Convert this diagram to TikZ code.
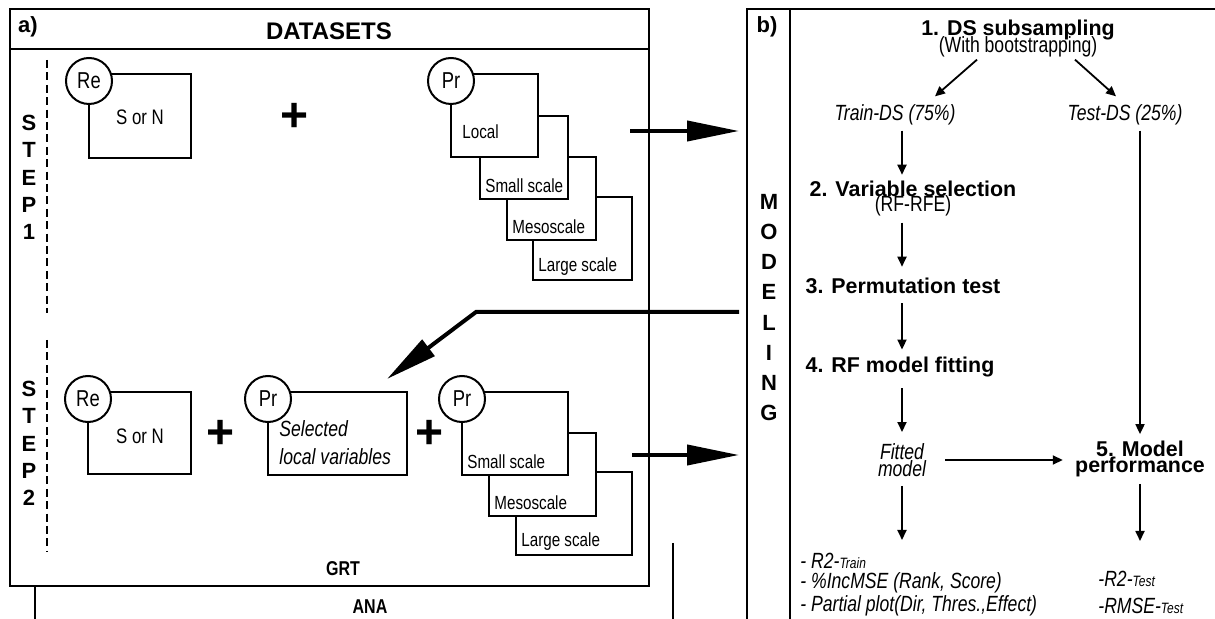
\documentclass[tikz,border=0pt]{standalone}
\usepackage{fontspec}
\setmainfont{Liberation Sans}
\newfontfamily\nf[FakeStretch=0.8]{Liberation Sans}
\usetikzlibrary{arrows.meta}

\tikzset{
  frame/.style={line width=1.2pt},
  box/.style={draw,line width=1pt,fill=white},
  tag/.style={circle,draw,line width=1pt,fill=white,minimum size=23pt,inner sep=0pt,font=\nf\fontsize{11.5}{12}\selectfont},
  lbl/.style={font=\nf\fontsize{9.5}{10}\selectfont,inner sep=0pt,anchor=west},
  plus/.style={font=\bfseries\fontsize{24}{24}\selectfont,inner sep=0pt},
  big/.style={line width=2pt,-{Triangle[length=26pt,width=10pt]}},
  arr/.style={line width=0.9pt,-{Triangle[length=5pt,width=4.5pt]}},
  ttl/.style={font=\bfseries\fontsize{10.7}{8}\selectfont,inner sep=1pt},
  par/.style={font=\nf\fontsize{11}{11}\selectfont,inner sep=1pt},
  ital/.style={font=\nf\itshape\fontsize{11}{8.5}\selectfont,inner sep=1pt},
  vert/.style={font=\bfseries\fontsize{11}{#1}\selectfont,align=center,inner sep=0pt},
}

\begin{document}
\begin{tikzpicture}[x=0.5pt,y=-0.5pt]
\useasboundingbox (0,0) rectangle (1215,619);
\draw[frame] (10,9) rectangle (649,586);
\draw[frame] (10,49) -- (649,49);
\node[font=\bfseries\fontsize{11}{12}\selectfont] (pa) at (28,27) {a)};
\node[font=\bfseries\fontsize{12}{12}\selectfont] (dsets) at (329,31) {DATASETS};
\node[vert=13.6pt] (step1) at (29,177.5) {S\\T\\E\\P\\1};
\node[vert=13.6pt] (step2) at (29,443.5) {S\\T\\E\\P\\2};
\draw[line width=1.4pt,dash pattern=on 4pt off 2.2pt] (47,60) -- (47,313) (47,340) -- (47,551);

\draw[box] (89,74) rectangle (191,158);
\node[tag] (re1) at (89,81) {Re};
\node[lbl,anchor=center,font=\nf\fontsize{10.5}{11}\selectfont] (sn1) at (140,117) {S or N};
\node[plus] (pl1) at (295,117) {+};
\foreach \t/\x/\y/\w [count=\i] in {Large scale/533/197/99,Mesoscale/507/157/89,Small scale/480/116/88}
  {\draw[box] (\x,\y) rectangle ++(\w,83);
   \node[lbl] (sa\i) at (\x+5,\y+70) {\t};}
\draw[box] (451,74) rectangle (538,157);
\node[tag] (pr1) at (451,81) {Pr};
\node[lbl] (loc) at (462,132) {Local};
\coordinate (s1) at (630,131);
\coordinate (b1) at (739,131);
\draw[big] (s1) -- (b1);

\draw[box] (88,392) rectangle (191,474);
\node[tag] (re2) at (88,399) {Re};
\node[lbl,anchor=center,font=\nf\fontsize{10.5}{11}\selectfont] (sn2) at (140,436) {S or N};
\node[plus] (pl2) at (221,434) {+};
\draw[box] (268,392) rectangle (407,475);
\node[tag] (pr2) at (268,399) {Pr};
\node[lbl,font=\nf\itshape\fontsize{11}{14}\selectfont,align=left] (sel) at (279,443) {Selected\\local variables};
\node[plus] (pl3) at (430,434) {+};
\foreach \t/\x/\y/\w [count=\i] in {Large scale/516/472/116,Mesoscale/489/433/107,Small scale/462/392/106}
  {\draw[box] (\x,\y) rectangle ++(\w,83);
   \node[lbl] (sb\i) at (\x+5,\y+70) {\t};}
\node[tag] (pr3) at (462,399) {Pr};
\coordinate (s2) at (632,455);
\coordinate (b2) at (739,455);
\draw[big] (s2) -- (b2);
\coordinate (r0) at (739,312);
\coordinate (r1) at (476,312);
\coordinate (r2) at (387,379);
\draw[big] (r0) -- (r1) -- (r2);
\node[font=\nf\bfseries\fontsize{10}{10}\selectfont] (grt) at (343,569) {GRT};
\node[font=\nf\bfseries\fontsize{10}{10}\selectfont] (ana) at (370,607) {ANA};
\draw[line width=1pt] (35,586) -- (35,619) (673,543) -- (673,619);

\draw[frame] (747,619) -- (747,9) -- (1215,9);
\draw[frame] (790,9) -- (790,619);
\node[font=\bfseries\fontsize{11}{12}\selectfont] (pb) at (767,27) {b)};
\node[vert=15.1pt] (mod) at (769,307.5) {M\\O\\D\\E\\L\\I\\N\\G};
\node[ttl] (dss) at (1018,30) {1. DS subsampling};
\node[par] (boot) at (1018,47) {(With bootstrapping)};
\node[ital] (train) at (895,115) {Train-DS (75\%)};
\node[ital] (test) at (1125,115) {Test-DS (25\%)};
\node[ttl] (var) at (913,189) {2. Variable selection};
\node[par] (rfe) at (913,206) {(RF-RFE)};
\node[ttl] (perm) at (903,286) {3. Permutation test};
\node[ttl] (rf) at (900,367) {4. RF model fitting};
\node[ital,align=center] (fit) at (902,460) {Fitted\\model};
\node[ttl,align=center] (perf) at (1140,458.5) {5. Model\\performance};
\node[font=\nf\itshape\fontsize{11}{10}\selectfont,align=left,anchor=north west,inner sep=1pt] (trl) at (798,551)
  {- R2-{\fontsize{7.5}{7.5}\selectfont Train}\\- \%IncMSE (Rank, Score)\\- Partial plot(Dir, Thres.,Effect)};
\node[font=\nf\itshape\fontsize{11}{13.5}\selectfont,align=left,anchor=north west,inner sep=1pt] (tsl) at (1096,569)
  {-R2-{\fontsize{7.5}{7.5}\selectfont Test}\\-RMSE-{\fontsize{7.5}{7.5}\selectfont Test}};

\draw[arr] ([xshift=-20.5pt]boot.south) -- ([xshift=20pt,yshift=3pt]train.north);
\draw[arr] ([xshift=28.5pt]boot.south) -- ([xshift=-4.5pt,yshift=3pt]test.north);
\draw[arr] ([yshift=-1.5pt]train.south -| fit) -- ([yshift=2pt]var.north -| fit);
\draw[arr] ([yshift=-2pt]rfe.south -| fit) -- ([yshift=4.5pt]perm.north -| fit);
\draw[arr] ([yshift=-3.5pt]perm.south -| fit) -- ([yshift=2.5pt]rf.north -| fit);
\draw[arr] ([yshift=-4.5pt]rf.south -| fit) -- ([yshift=4.5pt]fit.north);
\draw[arr] ([yshift=-3.5pt]fit.south) -- ([yshift=5.5pt]trl.north -| fit);
\draw[arr] ([yshift=-1.5pt]test.south -| perf) -- ([yshift=2pt]perf.north);
\draw[arr] ([yshift=-2.5pt]perf.south) -- ([yshift=14pt]tsl.north -| perf);
\draw[arr] ([xshift=8.5pt]fit.east) -- ([xshift=-5pt]fit.east -| perf.west);
\end{tikzpicture}
\end{document}
